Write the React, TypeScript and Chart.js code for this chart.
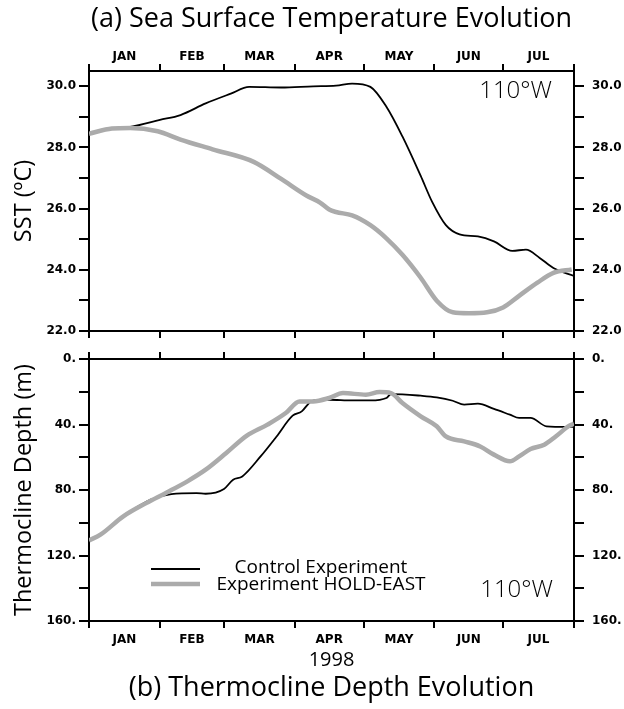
import React, { useEffect, useRef } from 'react';
import { Chart, registerables } from 'chart.js';

Chart.register(...registerables);

// ---- categories / ticks ----
const monthNames = ['JAN', 'FEB', 'MAR', 'APR', 'MAY', 'JUN', 'JUL'];
const monthStarts = [0, 31, 59, 90, 120, 151, 181, 212]; // day offsets from 1 Jan 1998
const sstTicks = [22, 23, 24, 25, 26, 27, 28, 29, 30];
const sstLabelled = [22, 24, 26, 28, 30];
const depthTicks = [0, 20, 40, 60, 80, 100, 120, 140, 160];
const depthLabelled = [0, 40, 80, 120, 160];

// ---- (a) SST series ----
const ctrlSstDays = [0, 10, 18, 31, 40, 51, 62, 70, 84, 98, 108, 115, 123, 130, 137, 145, 150, 156, 162, 170, 177, 185, 191, 197, 203, 212];
const ctrlSst = [28.45, 28.62, 28.67, 28.9, 29.06, 29.44, 29.76, 29.98, 29.96, 30.0, 30.02, 30.09, 29.98, 29.33, 28.36, 27.07, 26.22, 25.46, 25.16, 25.09, 24.93, 24.62, 24.66, 24.39, 24.06, 23.8];
const holdSstDays = [0, 10, 18, 30, 40, 54, 72, 84, 95, 101, 105, 108, 115, 123, 130, 137, 145, 152, 159, 166, 174, 181, 188, 196, 203, 211];
const holdSst = [28.45, 28.62, 28.64, 28.53, 28.26, 27.94, 27.53, 26.97, 26.43, 26.2, 25.97, 25.89, 25.78, 25.46, 25.03, 24.49, 23.74, 22.99, 22.61, 22.58, 22.61, 22.77, 23.15, 23.58, 23.9, 24.01];

// ---- (b) thermocline depth series ----
const ctrlDepthDays = [0, 5, 15, 27, 36, 47, 51, 59, 63, 67, 75, 82, 89, 93, 97, 100, 105, 115, 123, 130, 132, 145, 152, 159, 164, 170, 177, 184, 188, 193, 200, 209, 212];
const ctrlDepth = [110.8, 107.3, 96.1, 85.9, 82.5, 81.9, 82.3, 79.4, 73.7, 71.7, 59.5, 47.3, 34.6, 32, 25.9, 25.1, 24.9, 25.3, 25.3, 23.8, 21.4, 22.4, 23.4, 25.5, 27.9, 27.3, 30.5, 34, 36, 36, 41.1, 41.5, 41.5];
const holdDepthDays = [0, 5, 15, 25, 34, 43, 51, 60, 69, 78, 86, 92, 98, 105, 111, 121, 127, 132, 137, 145, 152, 156, 164, 171, 177, 184, 188, 193, 199, 204, 210, 212];
const holdDepth = [110.8, 107.3, 96.1, 88, 81.5, 74.7, 67.6, 57.4, 46.8, 40.1, 33, 25.9, 25.9, 23.8, 20.8, 21.8, 20.2, 20.8, 26.9, 35, 41.1, 47.3, 50.3, 53.4, 58.4, 62.5, 59.5, 55, 52.3, 47.3, 40.7, 39.5];

const seriesNames = ['Control Experiment', 'Experiment HOLD-EAST'];
const locationLabel = '110\u00b0W';

const monthMids = monthNames.map((_, i) => (monthStarts[i] + monthStarts[i + 1]) / 2);
const SANS = '"Open Sans", "Noto Sans", sans-serif';
const tickFont = { family: '"DejaVu Sans", sans-serif', size: 12, weight: 'bold' as const, lineHeight: 1 };
const titleFont = { family: SANS, size: 27, weight: 'normal' as const, lineHeight: 30 / 27 };
const axisTitleFont = { family: SANS, size: 23.5, lineHeight: 1.1 };

const pts = (xs: number[], ys: number[]) => xs.map((x, i) => ({ x, y: ys[i] }));

function xScale(position: 'top' | 'bottom', showLabels: boolean, height: number, padding: number, title?: any) {
  return {
    type: 'linear',
    position,
    min: monthStarts[0],
    max: monthStarts[monthStarts.length - 1],
    afterBuildTicks: (s: any) => {
      s.ticks = [...monthStarts, ...monthMids].sort((a, b) => a - b).map((v) => ({ value: v }));
    },
    afterFit: (s: any) => {
      s.height = height;
    },
    grid: {
      drawOnChartArea: false,
      drawTicks: true,
      tickLength: 7,
      lineWidth: 2,
      color: (c: any) => (c.tick && monthStarts.includes(c.tick.value) ? '#000' : 'rgba(0,0,0,0)'),
    },
    border: { display: true, color: '#000', width: 2 },
    ticks: {
      display: showLabels,
      autoSkip: false,
      maxRotation: 0,
      minRotation: 0,
      padding,
      font: tickFont,
      color: '#000',
      callback: (v: any) => {
        const i = monthMids.indexOf(Number(v));
        return i >= 0 ? monthNames[i] : '';
      },
    },
    title: title ?? { display: false },
  };
}

function yScale(
  position: 'left' | 'right',
  min: number,
  max: number,
  tickVals: number[],
  labelled: number[],
  fmt: (v: number) => string,
  width: number,
  padding: number,
  reverse: boolean,
  title?: any
) {
  return {
    type: 'linear',
    position,
    min,
    max,
    reverse,
    afterBuildTicks: (s: any) => {
      s.ticks = tickVals.map((v) => ({ value: v }));
    },
    afterFit: (s: any) => {
      s.width = width;
    },
    grid: { drawOnChartArea: false, drawTicks: true, tickLength: 10, lineWidth: 2, color: '#000' },
    border: { display: true, color: '#000', width: 2 },
    ticks: {
      autoSkip: false,
      padding,
      font: tickFont,
      color: '#000',
      callback: (v: any) => (labelled.includes(Number(v)) ? fmt(Number(v)) : ''),
    },
    title: title ?? { display: false },
  };
}

const locationPlugin = (dx: number, dy: number, fromBottom: boolean) => ({
  id: 'locationLabel',
  afterDraw(chart: any) {
    const { ctx, chartArea } = chart;
    ctx.save();
    ctx.font = `300 24px ${SANS}`;
    ctx.fillStyle = '#000';
    ctx.textAlign = 'right';
    ctx.textBaseline = 'alphabetic';
    const y = fromBottom ? chartArea.bottom - dy : chartArea.top + dy;
    ctx.fillText(locationLabel, chartArea.right - dx, y);
    ctx.restore();
  },
});

const legendPlugin = {
  id: 'insideLegend',
  afterDraw(chart: any) {
    const { ctx, chartArea } = chart;
    const rows = chart.data.datasets;
    ctx.save();
    rows.forEach((ds: any, i: number) => {
      const y = chartArea.bottom - 52 + i * 15;
      ctx.strokeStyle = ds.borderColor;
      ctx.lineWidth = ds.borderWidth;
      ctx.beginPath();
      ctx.moveTo(chartArea.left + 62, y);
      ctx.lineTo(chartArea.left + 111, y);
      ctx.stroke();
      ctx.font = `19px ${SANS}`;
      ctx.fillStyle = '#000';
      ctx.textAlign = 'center';
      ctx.textBaseline = 'middle';
      ctx.fillText(ds.label, chartArea.left + 232, y - 1 + i * 2);
    });
    ctx.restore();
  },
};

export default function App() {
  const topRef = useRef<HTMLCanvasElement>(null);
  const botRef = useRef<HTMLCanvasElement>(null);

  useEffect(() => {
    const ctrlStyle = { borderColor: '#000000', borderWidth: 1.8, pointRadius: 0, tension: 0.35, cubicInterpolationMode: 'monotone' as const, fill: false, order: 2 };
    const holdStyle = { borderColor: '#ababab', borderWidth: 4.5, pointRadius: 0, tension: 0.35, cubicInterpolationMode: 'monotone' as const, fill: false, order: 1 };

    const c1 = new Chart(topRef.current!, {
      type: 'line',
      data: {
        datasets: [
          { label: seriesNames[0], data: pts(ctrlSstDays, ctrlSst), ...ctrlStyle, xAxisID: 'x', yAxisID: 'y' },
          { label: seriesNames[1], data: pts(holdSstDays, holdSst), ...holdStyle, xAxisID: 'x', yAxisID: 'y' },
        ],
      },
      options: {
        responsive: false,
        devicePixelRatio: 1,
        animation: false,
        layout: { padding: 0 },
        plugins: {
          legend: { display: false },
          tooltip: { enabled: false },
          title: {
            display: true,
            fullSize: false,
            text: '(a) Sea Surface Temperature Evolution',
            font: titleFont,
            color: '#000',
            padding: { top: 4, bottom: 4 },
          },
        },
        scales: {
          xt: xScale('top', true, 33, 1),
          x: xScale('bottom', false, 12, 0),
          y: yScale('left', 22, 30.5, sstTicks, sstLabelled, (v) => v.toFixed(1), 89, 3, false, {
            display: true,
            text: 'SST (\u00baC)',
            font: axisTitleFont,
            color: '#000',
            padding: { top: 11, bottom: 0 },
          }),
          y2: yScale('right', 22, 30.5, sstTicks, sstLabelled, (v) => v.toFixed(1), 50, 8, false),
        },
      } as any,
      plugins: [locationPlugin(22, 27, false)],
    });

    const c2 = new Chart(botRef.current!, {
      type: 'line',
      data: {
        datasets: [
          { label: seriesNames[0], data: pts(ctrlDepthDays, ctrlDepth), ...ctrlStyle, xAxisID: 'x', yAxisID: 'y' },
          { label: seriesNames[1], data: pts(holdDepthDays, holdDepth), ...holdStyle, xAxisID: 'x', yAxisID: 'y' },
        ],
      },
      options: {
        responsive: false,
        devicePixelRatio: 1,
        animation: false,
        layout: { padding: 0 },
        plugins: {
          legend: { display: false },
          tooltip: { enabled: false },
          title: {
            display: true,
            fullSize: false,
            position: 'bottom',
            text: '(b) Thermocline Depth Evolution',
            font: titleFont,
            color: '#000',
            padding: { top: 0, bottom: 6 },
          },
        },
        scales: {
          xt: xScale('top', false, 14, 0),
          x: xScale('bottom', true, 52, 6, {
            display: true,
            text: '1998',
            font: { family: SANS, size: 20, lineHeight: 1 },
            color: '#000',
            padding: { top: 0, bottom: 3 },
          }),
          y: yScale('left', 0, 160, depthTicks, depthLabelled, (v) => `${v}.`, 89, 3, true, {
            display: true,
            text: 'Thermocline Depth (m)',
            font: axisTitleFont,
            color: '#000',
            padding: { top: 11, bottom: 0 },
          }),
          y2: yScale('right', 0, 160, depthTicks, depthLabelled, (v) => `${v}.`, 50, 8, true),
        },
      } as any,
      plugins: [locationPlugin(21, 24, true), legendPlugin],
    });

    return () => {
      c1.destroy();
      c2.destroy();
    };
  }, []);

  return (
    <div style={{ position: 'absolute', left: 0, top: 0, width: 624, height: 709, background: '#fff' }}>
      <canvas ref={topRef} width={624} height={345} style={{ position: 'absolute', left: 0, top: 0, display: 'block' }} />
      <canvas ref={botRef} width={624} height={364} style={{ position: 'absolute', left: 0, top: 345, display: 'block' }} />
    </div>
  );
}
